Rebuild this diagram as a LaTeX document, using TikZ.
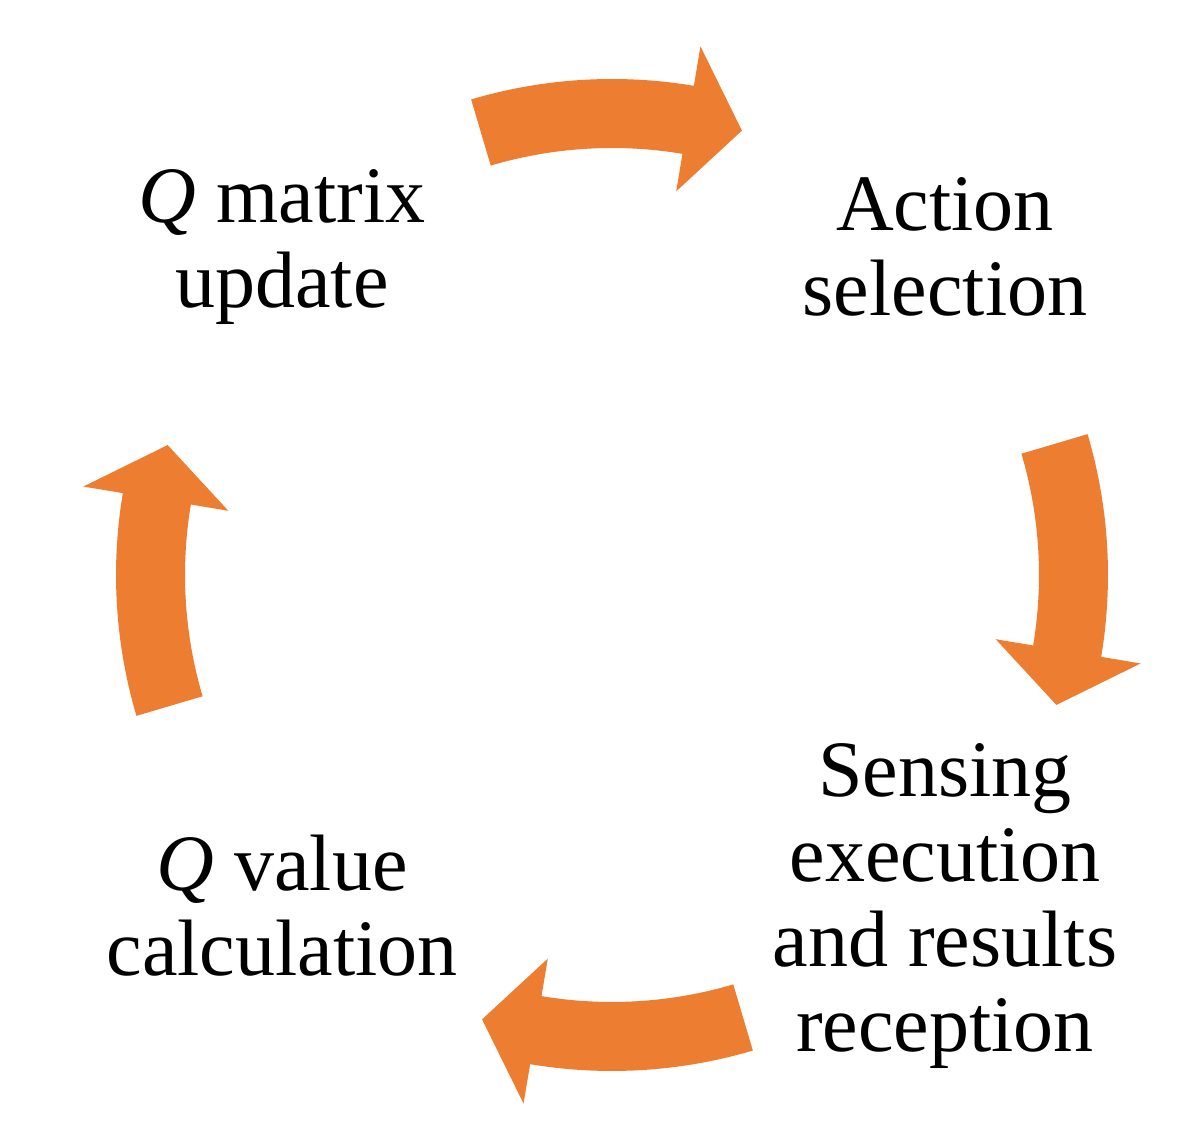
\documentclass[tikz,border=0pt]{standalone}
\usepackage{fontspec}
\setmainfont{Liberation Serif}
\definecolor{arrorange}{HTML}{ED7D31}
\begin{document}
\begin{tikzpicture}[x=1pt,y=1pt,
  lbl/.style={align=center,inner sep=0pt,font=\fontsize{80}{85}\selectfont},
  carrow/.style={fill=arrorange,draw=none}]
\useasboundingbox (0,0) rectangle (1199,1139);
\coordinate (c) at (612,564);
\foreach \r in {0,90,180,270}{
  \pgfmathsetmacro\a{106.5-\r}
  \pgfmathsetmacro\b{80.5-\r}
  \pgfmathsetmacro\t{73.7-\r}
  \fill[carrow,shift={(c)}] (\a:496) arc[start angle=\a,end angle=\b,radius=496]
    -- (\b:536) -- (\t:463) -- (\b:389) -- (\b:427)
    arc[start angle=\b,end angle=\a,radius=427] -- cycle;
}
\node[lbl] (qm) at (282,892) {\textit{Q} matrix\\update};
\node[lbl] (as) at (945,892) {Action\\selection};
\node[lbl] (se) at (945,233) {Sensing\\execution\\and results\\reception};
\node[lbl] (qv) at (282,233) {\textit{Q} value\\calculation};
\end{tikzpicture}
\end{document}
